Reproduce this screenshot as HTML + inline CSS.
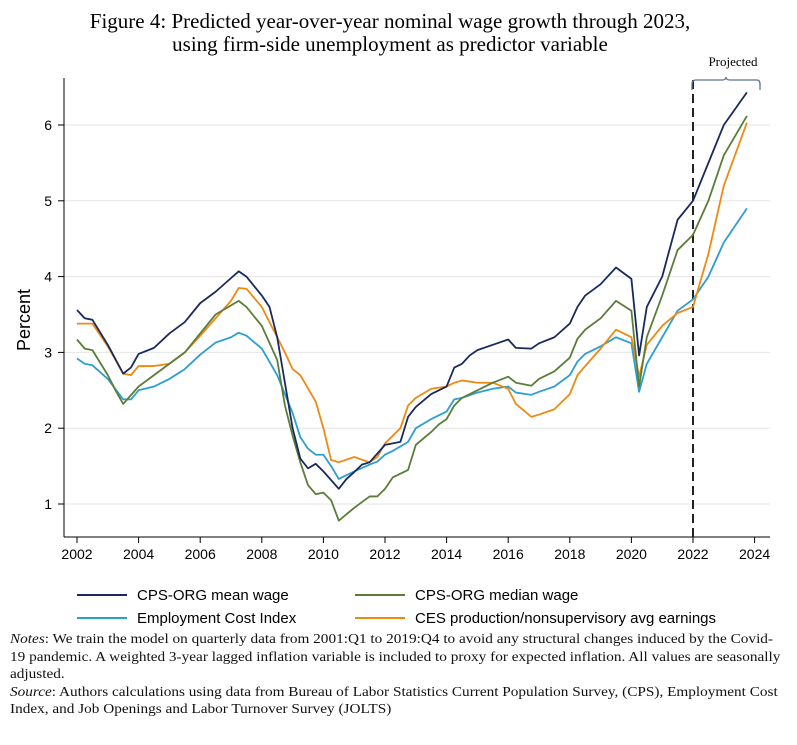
<!DOCTYPE html>
<html><head><meta charset="utf-8"><style>
body{margin:0;background:#fff;width:797px;height:745px;overflow:hidden;font-family:"Liberation Serif",serif}
svg{position:absolute;left:0;top:0}
#notes{position:absolute;left:10px;top:631px;width:720px;font-size:14px;line-height:17.5px;color:#111;transform:scaleX(1.09);transform-origin:0 0}
#notes div{white-space:nowrap}
</style></head><body>
<svg id="chart" width="797" height="630" font-family="Liberation Sans, sans-serif">
<text x="390" y="28" text-anchor="middle" font-family="Liberation Serif, serif" font-size="21">Figure 4: Predicted year-over-year nominal wage growth through 2023,</text>
<text x="390" y="51" text-anchor="middle" font-family="Liberation Serif, serif" font-size="21">using firm-side unemployment as predictor variable</text>
<g id="grid"></g><g id="axes"></g><g id="series"></g>
<text transform="translate(30,320) rotate(-90)" text-anchor="middle" font-size="18">Percent</text>
<text x="733" y="66" text-anchor="middle" font-family="Liberation Serif, serif" font-size="13">Projected</text>
<path d="M692,90 V84 Q692,80 696,80 H722 Q726,80 726,77 Q726,80 730,80 H757 Q760,80 760,84 V90" fill="none" stroke="#5a7394" stroke-width="1.3"/>
<g font-size="15">
<line x1="77" y1="595" x2="127" y2="595" stroke="#1a2a5e" stroke-width="2"/><text x="137" y="600">CPS-ORG mean wage</text>
<line x1="355" y1="595" x2="405" y2="595" stroke="#5a7d3a" stroke-width="2"/><text x="415" y="600">CPS-ORG median wage</text>
<line x1="77" y1="618" x2="127" y2="618" stroke="#2b9fd0" stroke-width="2"/><text x="137" y="623">Employment Cost Index</text>
<line x1="355" y1="618" x2="405" y2="618" stroke="#ee8a12" stroke-width="2"/><text x="415" y="623">CES production/nonsupervisory avg earnings</text>
</g>
</svg>
<div id="notes">
<div><i>Notes</i>: We train the model on quarterly data from 2001:Q1 to 2019:Q4 to avoid any structural changes induced by the Covid-</div>
<div>19 pandemic. A weighted 3-year lagged inflation variable is included to proxy for expected inflation. All values are seasonally</div>
<div>adjusted.</div>
<div><i>Source</i>: Authors calculations using data from Bureau of Labor Statistics Current Population Survey, (CPS), Employment Cost</div>
<div>Index, and Job Openings and Labor Turnover Survey (JOLTS)</div>
</div>
<script>
const xTicks=[2002,2004,2006,2008,2010,2012,2014,2016,2018,2020,2022,2024];
const yTicks=[1,2,3,4,5,6];
const meanT=[2002,2002.25,2002.5,2003,2003.5,2003.75,2004,2004.5,2005,2005.5,2006,2006.5,2007,2007.25,2007.5,2008,2008.25,2008.5,2008.75,2009,2009.25,2009.5,2009.75,2010,2010.5,2010.75,2011,2011.25,2011.5,2012,2012.5,2012.75,2013,2013.5,2014,2014.25,2014.5,2014.75,2015,2015.5,2016,2016.25,2016.75,2017,2017.5,2018,2018.25,2018.5,2019,2019.5,2020,2020.25,2020.5,2021,2021.5,2022,2022.5,2023,2023.75];
const meanV=[3.56,3.45,3.43,3.1,2.72,2.8,2.98,3.06,3.25,3.4,3.65,3.8,3.98,4.07,4.0,3.75,3.6,3.2,2.6,2.0,1.6,1.47,1.53,1.43,1.2,1.33,1.42,1.52,1.55,1.78,1.82,2.15,2.28,2.45,2.55,2.8,2.85,2.96,3.03,3.1,3.17,3.06,3.05,3.12,3.2,3.38,3.6,3.75,3.9,4.12,3.97,2.96,3.6,4.0,4.75,5.0,5.5,6.0,6.43];
const medT=[2002,2002.25,2002.5,2003,2003.25,2003.5,2004,2004.5,2005,2005.5,2006,2006.5,2007,2007.25,2007.5,2008,2008.5,2008.75,2009,2009.25,2009.5,2009.75,2010,2010.25,2010.5,2011,2011.5,2011.75,2012,2012.25,2012.75,2013,2013.5,2013.75,2014,2014.25,2014.5,2015,2015.5,2016,2016.25,2016.75,2017,2017.5,2018,2018.25,2018.5,2019,2019.5,2020,2020.25,2020.5,2021,2021.5,2022,2022.5,2023,2023.75];
const medV=[3.17,3.05,3.03,2.7,2.5,2.32,2.55,2.7,2.85,3.0,3.25,3.5,3.62,3.68,3.6,3.35,2.9,2.3,1.9,1.55,1.25,1.13,1.15,1.05,0.78,0.95,1.1,1.1,1.2,1.35,1.45,1.78,1.95,2.05,2.12,2.3,2.4,2.5,2.6,2.68,2.6,2.56,2.65,2.75,2.93,3.18,3.3,3.45,3.68,3.55,2.55,3.2,3.75,4.35,4.55,5.0,5.6,6.12];
const eciT=[2002,2002.25,2002.5,2003,2003.5,2003.75,2004,2004.5,2005,2005.5,2006,2006.5,2007,2007.25,2007.5,2008,2008.5,2009,2009.25,2009.5,2009.75,2010,2010.25,2010.5,2011,2011.5,2011.75,2012,2012.25,2012.75,2013,2013.5,2014,2014.25,2014.5,2015,2015.5,2016,2016.25,2016.75,2017,2017.5,2018,2018.25,2018.5,2019,2019.5,2020,2020.25,2020.5,2021,2021.5,2022,2022.5,2023,2023.75];
const eciV=[2.92,2.85,2.83,2.65,2.38,2.38,2.5,2.55,2.65,2.78,2.97,3.13,3.2,3.26,3.22,3.05,2.7,2.2,1.88,1.73,1.65,1.65,1.5,1.33,1.43,1.52,1.56,1.65,1.7,1.82,2.0,2.12,2.22,2.38,2.4,2.47,2.52,2.55,2.47,2.44,2.48,2.55,2.7,2.88,2.98,3.08,3.2,3.12,2.48,2.85,3.2,3.55,3.7,4.0,4.45,4.9];
const cesT=[2002,2002.5,2003,2003.5,2003.75,2004,2004.5,2005,2005.5,2006,2006.5,2007,2007.25,2007.5,2008,2008.5,2008.75,2009,2009.25,2009.75,2010,2010.25,2010.5,2011,2011.5,2011.75,2012,2012.5,2012.75,2013,2013.5,2014,2014.25,2014.5,2015,2015.5,2016,2016.25,2016.75,2017,2017.5,2018,2018.25,2018.5,2019,2019.5,2020,2020.25,2020.5,2021,2021.5,2022,2022.5,2023,2023.75];
const cesV=[3.38,3.38,3.08,2.72,2.7,2.82,2.82,2.85,3.0,3.22,3.45,3.68,3.85,3.84,3.6,3.2,3.0,2.78,2.7,2.35,2.0,1.58,1.55,1.62,1.55,1.62,1.8,2.0,2.3,2.4,2.52,2.55,2.6,2.63,2.6,2.6,2.52,2.32,2.15,2.18,2.25,2.45,2.7,2.82,3.05,3.3,3.2,2.68,3.1,3.35,3.52,3.6,4.3,5.2,6.03];
const projStart=2022;
const X=t=>77+(t-2002)*30.8, Y=v=>504-(v-1)*75.8;
const NS='http://www.w3.org/2000/svg';
function mk(p,tag,at){const e=document.createElementNS(NS,tag);for(const k in at)e.setAttribute(k,at[k]);document.querySelector(p).appendChild(e);return e;}
yTicks.forEach(v=>{
 const g=mk('#grid','line',{x1:64,x2:770,y1:Y(v),y2:Y(v),stroke:'#e6e6e6','stroke-width':1});
 
 
 const t=mk('#axes','line',{x1:58,x2:64,y1:Y(v),y2:Y(v),stroke:'#000'});
 
 
 const l=mk('#axes','text',{x:52,y:Y(v)+5,'text-anchor':'end','font-size':14});
 l.textContent=v;
 
 
});
xTicks.forEach(t=>{
 const k=mk('#axes','line',{x1:X(t),x2:X(t),y1:537,y2:543,stroke:'#000'});
 
 
 const l=mk('#axes','text',{x:X(t),y:559,'text-anchor':'middle','font-size':14});
 l.textContent=t;
 
 
});
const ya=mk('#axes','line',{x1:64,x2:64,y1:78,y2:537,stroke:'#000'});


const xa=mk('#axes','line',{x1:64,x2:770,y1:537,y2:537,stroke:'#000'});


const pl=mk('#series','line',{x1:X(projStart),x2:X(projStart),y1:80,y2:537,stroke:'#222','stroke-width':2,'stroke-dasharray':'9,5'});


function line(T,V,c,n){
 const p=mk('#series','polyline',{points:T.map((t,i)=>X(t)+','+Y(V[i])).join(' '),fill:'none',stroke:c,'stroke-width':1.8,'stroke-linejoin':'round'});
 
 
}
line(eciT,eciV,'#2b9fd0','eci-line');
line(cesT,cesV,'#ee8a12','ces-line');
line(medT,medV,'#5a7d3a','median-wage-line');
line(meanT,meanV,'#1a2a5e','mean-wage-line');
</script>
</body></html>
